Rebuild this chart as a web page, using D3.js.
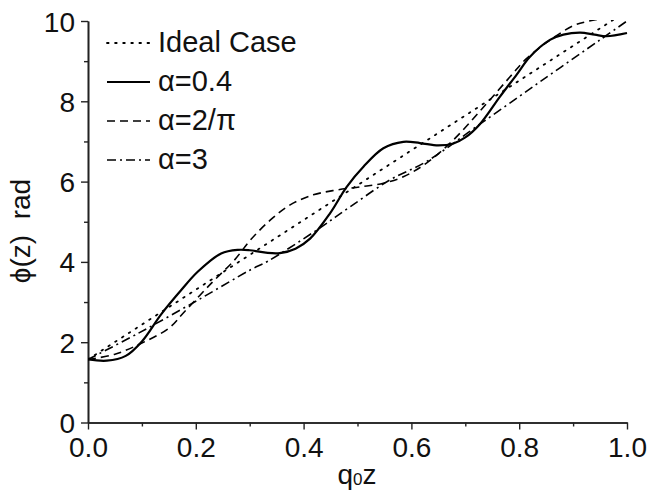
<!DOCTYPE html>
<html>
<head>
<meta charset="utf-8">
<script src="https://cdn.jsdelivr.net/npm/d3@7"></script>
<style>
  body { margin: 0; background: #fff; }
  text { font-family: "Liberation Sans", Arial, sans-serif; fill: #111; }
</style>
</head>
<body>
<svg id="chart" width="647" height="499"></svg>
<script>
const WIDTH = 647;
const HEIGHT = 499;

// values
const idealZ = [0, 1];
const idealPhi = [1.571, 10.25];

const a04Z   = [0, 0.035, 0.07, 0.10, 0.136, 0.173, 0.204, 0.247, 0.278, 0.30, 0.33, 0.356, 0.385, 0.412, 0.449, 0.48, 0.511, 0.548, 0.585, 0.616, 0.65, 0.678, 0.70, 0.727, 0.764, 0.795, 0.82, 0.857, 0.882, 0.913, 0.94, 0.962, 1.0];
const a04Phi = [1.571, 1.54, 1.66, 2.02, 2.70, 3.30, 3.76, 4.21, 4.30, 4.29, 4.23, 4.22, 4.33, 4.58, 5.21, 5.87, 6.37, 6.83, 6.99, 6.96, 6.90, 6.95, 7.10, 7.43, 8.11, 8.66, 9.11, 9.53, 9.66, 9.71, 9.66, 9.62, 9.70];

const a2piZ   = [0, 0.05, 0.10, 0.15, 0.179, 0.229, 0.272, 0.301, 0.338, 0.375, 0.418, 0.461, 0.505, 0.548, 0.585, 0.628, 0.678, 0.74, 0.783, 0.814, 0.86, 0.90, 0.93, 0.97, 1.0];
const a2piPhi = [1.571, 1.70, 1.98, 2.35, 2.76, 3.47, 4.05, 4.54, 5.04, 5.42, 5.67, 5.79, 5.87, 5.96, 6.12, 6.46, 7.04, 7.95, 8.61, 9.07, 9.55, 9.88, 10.0, 10.1, 10.15];

const a3Z   = [0, 0.093, 0.204, 0.301, 0.334, 0.424, 0.486, 0.56, 0.628, 0.727, 0.839, 0.95, 1.0];
const a3Phi = [1.571, 2.22, 3.05, 3.80, 4.02, 4.79, 5.37, 6.04, 6.50, 7.43, 8.49, 9.53, 10.0];

const legendLabels = ["Ideal Case", "α=0.4", "α=2/π", "α=3"];
const xTicks = [0, 0.2, 0.4, 0.6, 0.8, 1.0];
const yTicks = [0, 2, 4, 6, 8, 10];

const series = [
  { z: idealZ, phi: idealPhi, dash: "1.6,6.5", width: 1.8, cap: "round" },
  { z: a04Z,   phi: a04Phi,   dash: null,    width: 2.2, cap: "butt" },
  { z: a2piZ,  phi: a2piPhi,  dash: "8,5",   width: 1.6, cap: "butt" },
  { z: a3Z,    phi: a3Phi,    dash: "9,4,2,4", width: 1.6, cap: "butt" }
];

const svg = d3.select("#chart");

const x = d3.scaleLinear().domain([0, 1]).range([88, 627]);
const y = d3.scaleLinear().domain([0, 10]).range([422.5, 21]);

svg.append("defs").append("clipPath").attr("id", "plotClip")
   .append("rect")
   .attr("x", x(0)).attr("y", y(10) - 1)
   .attr("width", x(1) - x(0) + 2).attr("height", y(0) - y(10) + 1);

// axes: major ticks labelled, minor ticks in between
const xAxis = d3.axisBottom(x).tickValues(xTicks).tickFormat(d3.format(".1f"))
                .tickSizeInner(7).tickSizeOuter(0).tickPadding(8);
const xMinor = d3.axisBottom(x).tickValues([0.1, 0.3, 0.5, 0.7, 0.9]).tickFormat("")
                 .tickSizeInner(4).tickSizeOuter(0);
const yAxis = d3.axisLeft(y).tickValues(yTicks).tickFormat(d3.format("d"))
                .tickSizeInner(7).tickSizeOuter(0).tickPadding(6);
const yMinor = d3.axisLeft(y).tickValues([1, 3, 5, 7, 9]).tickFormat("")
                 .tickSizeInner(4).tickSizeOuter(0);

const gx = svg.append("g").attr("transform", "translate(0," + y(0) + ")").call(xAxis);
svg.append("g").attr("transform", "translate(0," + y(0) + ")").call(xMinor);
const gy = svg.append("g").attr("transform", "translate(" + x(0) + ",0)").call(yAxis);
svg.append("g").attr("transform", "translate(" + x(0) + ",0)").call(yMinor);

svg.selectAll(".domain").attr("stroke", "#222").attr("stroke-width", 1.6);
svg.selectAll(".tick line").attr("stroke", "#222").attr("stroke-width", 1.4);
gx.selectAll(".tick text").attr("font-size", 28).attr("font-family", "Liberation Sans, Arial, sans-serif").attr("fill", "#111");
gy.selectAll(".tick text").attr("font-size", 28).attr("font-family", "Liberation Sans, Arial, sans-serif").attr("fill", "#111")
  .attr("dy", "0.36em");

// axis titles
const xTitle = svg.append("text")
   .attr("x", 357).attr("y", 484)
   .attr("text-anchor", "middle")
   .attr("font-size", 28);
xTitle.append("tspan").text("q");
xTitle.append("tspan").attr("font-size", 17).attr("dy", 1).text("0");
xTitle.append("tspan").attr("dy", -1).text("z");

svg.append("text")
   .attr("transform", "translate(30,231) rotate(-90)")
   .attr("text-anchor", "middle")
   .attr("font-size", 28)
   .style("white-space", "pre")
   .text("ϕ(z)  rad");

// curves
const line = d3.line()
               .x(d => x(d[0]))
               .y(d => y(d[1]))
               .curve(d3.curveCatmullRom.alpha(0.5));

const curves = svg.append("g").attr("clip-path", "url(#plotClip)");
series.forEach(s => {
  curves.append("path")
        .datum(s.z.map((v, i) => [v, s.phi[i]]))
        .attr("d", line)
        .attr("fill", "none")
        .attr("stroke", "#000")
        .attr("stroke-width", s.width)
        .attr("stroke-linecap", s.cap)
        .attr("stroke-dasharray", s.dash);
});

// legend
const legend = svg.append("g").attr("transform", "translate(107,43)");
legendLabels.forEach((lab, i) => {
  const s = series[i];
  const row = legend.append("g").attr("transform", "translate(0," + (i * 39) + ")");
  row.append("line")
     .attr("x1", 0).attr("x2", 43).attr("y1", 0).attr("y2", 0)
     .attr("stroke", "#000")
     .attr("stroke-width", s.width)
     .attr("stroke-linecap", s.cap)
     .attr("stroke-dasharray", s.dash);
  row.append("text")
     .attr("x", 51).attr("y", 9)
     .attr("font-size", 29)
     .text(lab);
});
</script>
</body>
</html>
